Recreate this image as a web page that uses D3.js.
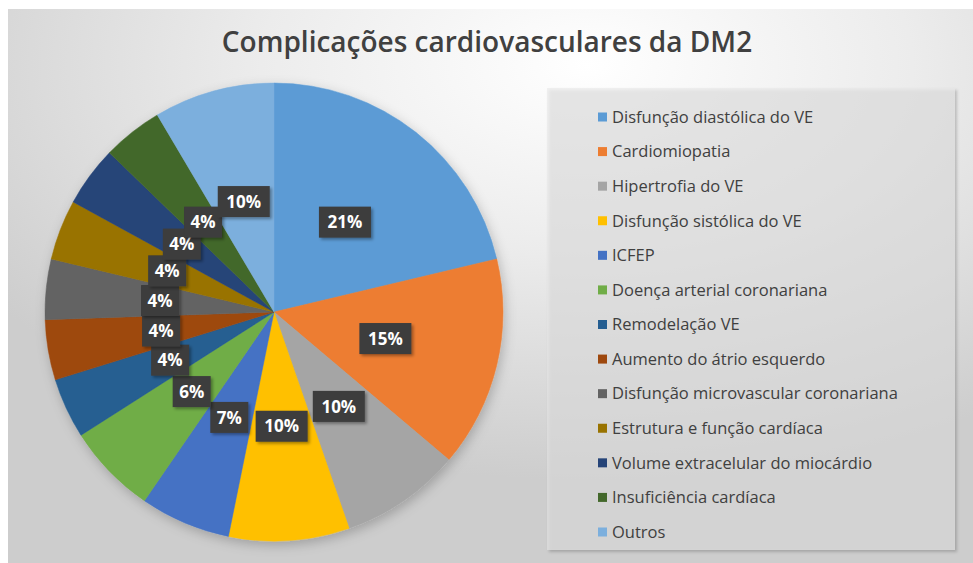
<!DOCTYPE html>
<html>
<head>
<meta charset="utf-8">
<script src="https://cdn.jsdelivr.net/npm/d3@7"></script>
<style>
  html, body { margin: 0; padding: 0; background: #fff; }
  #chart { width: 973px; height: 563px; }
  svg { display: block; }
</style>
</head>
<body>
<div id="chart"></div>
<script>
//Datos
const categorias = ['Disfunção diastólica do VE', 'Cardiomiopatia', 'Hipertrofia do VE', 'Disfunção sistólica do VE', 'ICFEP', 'Doença arterial coronariana', 'Remodelação VE', 'Aumento do átrio esquerdo', 'Disfunção microvascular coronariana', 'Estrutura e função cardíaca', 'Volume extracelular do miocárdio', 'Insuficiência cardíaca', 'Outros'];
const valores = [10, 7, 4, 4, 3, 3, 2, 2, 2, 2, 2, 2, 4];
const etiquetas = ['21%', '15%', '10%', '10%', '7%', '6%', '4%', '4%', '4%', '4%', '4%', '4%', '10%'];
const colores = ['#5B9BD5', '#ED7D31', '#A5A5A5', '#FFC000', '#4472C4', '#70AD47', '#255E91', '#9E480E', '#636363', '#997300', '#264478', '#43682B', '#7CAFDD'];

const titulo = 'Complicações cardiovasculares da DM2';

let width = 973, height = 563;

let svg = d3.select('#chart')
    .append('svg')
    .attr('width', width)
    .attr('height', height);

let defs = svg.append('defs');

//Fondo degradado
let grad = defs.append('radialGradient')
    .attr('id', 'bg')
    .attr('cx', '0.6').attr('cy', '0.1')
    .attr('r', '0.75');
grad.append('stop').attr('offset', '0%').attr('stop-color', '#ffffff');
grad.append('stop').attr('offset', '45%').attr('stop-color', '#ececec');
grad.append('stop').attr('offset', '100%').attr('stop-color', '#cdcdcd');

let sombra = defs.append('filter').attr('id', 'sombra')
    .attr('x', '-20%').attr('y', '-20%').attr('width', '140%').attr('height', '140%');
sombra.append('feDropShadow')
    .attr('dx', 2).attr('dy', 4).attr('stdDeviation', 6)
    .attr('flood-color', '#000').attr('flood-opacity', 0.22);

let sombraEtiqueta = defs.append('filter').attr('id', 'sombraEtiqueta')
    .attr('x', '-30%').attr('y', '-30%').attr('width', '160%').attr('height', '160%');
sombraEtiqueta.append('feDropShadow')
    .attr('dx', 2).attr('dy', 2).attr('stdDeviation', 1.5)
    .attr('flood-color', '#000').attr('flood-opacity', 0.35);

svg.append('rect')
    .attr('x', 8).attr('y', 9)
    .attr('width', width - 8).attr('height', height - 9)
    .attr('fill', 'url(#bg)');

//Título
svg.append('text')
    .attr('x', 487)
    .attr('y', 52)
    .attr('text-anchor', 'middle')
    .style('font-family', '"Open Sans", sans-serif')
    .style('font-size', '28px')
    .style('font-weight', 600)
    .style('fill', '#404040')
    .text(titulo);

//Tarta
let cx = 274, cy = 312, radio = 229;

let color = d3.scaleOrdinal()
    .domain(categorias)
    .range(colores);

let pie = d3.pie()
    .sort(null)
    .value(function(d, i) { return valores[i]; });

let arcos = pie(categorias);

let arc = d3.arc()
    .innerRadius(0)
    .outerRadius(radio);

let g = svg.append('g')
    .attr('transform', 'translate(' + cx + ',' + cy + ')');

g.append('g')
    .attr('filter', 'url(#sombra)')
    .selectAll('path')
    .data(arcos)
    .enter()
    .append('path')
    .attr('d', arc)
    .attr('fill', function(d) { return color(d.data); })
    .attr('stroke', function(d) { return color(d.data); })
    .attr('stroke-width', 0.5);

//Etiquetas
let etiq = g.append('g')
    .selectAll('g')
    .data(arcos)
    .enter()
    .append('g')
    .attr('transform', function(d) { return 'translate(' + arc.centroid(d) + ')'; });

etiq.append('rect')
    .attr('x', function(d) { return etiquetas[d.index].length > 2 ? -26 : -19; })
    .attr('y', -15.5)
    .attr('width', function(d) { return etiquetas[d.index].length > 2 ? 52 : 38; })
    .attr('height', 31)
    .attr('fill', '#3c3c3c')
    .attr('filter', 'url(#sombraEtiqueta)');

etiq.append('text')
    .attr('text-anchor', 'middle')
    .attr('dy', '0.36em')
    .style('font-family', '"Open Sans", sans-serif')
    .style('font-size', '17px')
    .style('font-weight', 700)
    .style('fill', '#ffffff')
    .text(function(d) { return etiquetas[d.index]; });

//Leyenda
svg.append('rect')
    .attr('x', 547).attr('y', 88)
    .attr('width', 408).attr('height', 462)
    .attr('fill', '#e6e6e6')
    .attr('fill-opacity', 0.55)
    .attr('filter', 'url(#sombraEtiqueta)');

let y = d3.scalePoint()
    .domain(categorias)
    .range([117, 532]);

let leyenda = svg.append('g')
    .selectAll('g')
    .data(categorias)
    .enter()
    .append('g')
    .attr('transform', function(d) { return 'translate(598,' + y(d) + ')'; });

leyenda.append('rect')
    .attr('x', 0).attr('y', -4.5)
    .attr('width', 9).attr('height', 9)
    .attr('fill', function(d) { return color(d); });

leyenda.append('text')
    .attr('x', 14)
    .attr('dy', '0.35em')
    .style('font-family', '"Open Sans", sans-serif')
    .style('font-size', '16.5px')
    .style('fill', '#404040')
    .text(function(d) { return d; });
</script>
</body>
</html>
